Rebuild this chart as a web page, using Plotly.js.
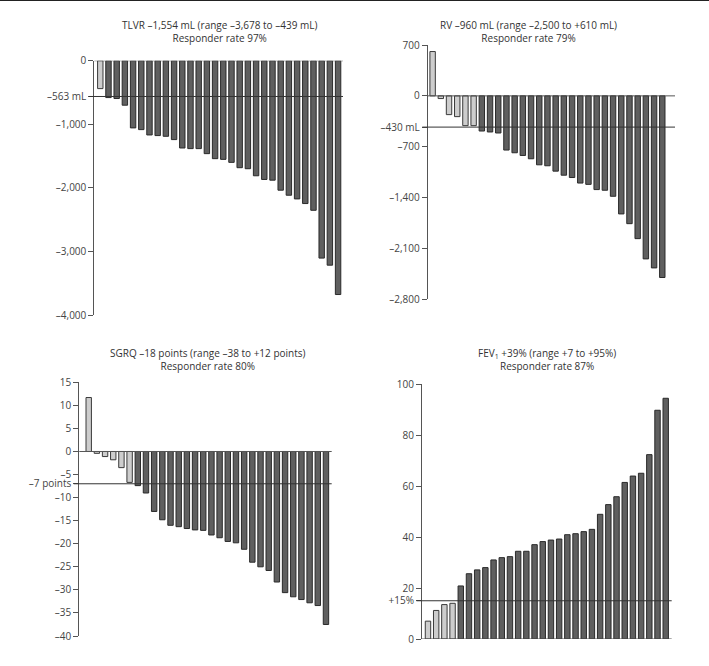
<!DOCTYPE html>
<html>
<head>
<meta charset="utf-8">
<script src="https://cdn.plot.ly/plotly-3.0.1.min.js"></script>
<style>html,body{margin:0;padding:0;background:#fff;}#chart{width:709px;height:666px;}</style>
</head>
<body>
<div id="chart"></div>
<script>
// ---- Data ----
const tlvrValues = [-439,-580,-595,-700,-1057,-1084,-1168,-1178,-1189,-1241,-1373,-1383,-1383,-1462,-1541,-1552,-1599,-1683,-1699,-1810,-1868,-1879,-2037,-2116,-2174,-2247,-2353,-3105,-3216,-3678];
const rvValues = [610,-37,-258,-286,-410,-410,-484,-497,-511,-746,-783,-820,-866,-949,-962,-1036,-1092,-1124,-1200,-1218,-1290,-1299,-1382,-1625,-1759,-1965,-2244,-2368,-2500];
const sgrqValues = [11.7,-0.4,-1.1,-1.8,-3.5,-6.7,-7.4,-9.0,-13.0,-14.8,-16.0,-16.3,-16.7,-17.0,-17.1,-18.1,-18.7,-19.5,-19.8,-21.2,-24.0,-25.0,-25.8,-28.3,-30.6,-31.5,-32.1,-32.8,-33.4,-37.5];
const fevValues = [7,11.2,13.5,14,20.8,25.6,27.1,28,31,31.9,32.3,34.4,34.4,37,38.2,38.8,39.2,40.9,41.3,42.1,43,48.9,52.7,55.8,61.4,63.9,65,72.3,89.7,94.4];

const thresholds = {tlvr: -563, rv: -430, sgrq: -7, fev: 15};

const tlvrTickVals = [0,-563,-1000,-2000,-3000,-4000];
const tlvrTickText = ['0','–563 mL','–1,000','–2,000','–3,000','–4,000'];
const rvTickVals = [700,0,-430,-700,-1400,-2100,-2800];
const rvTickText = ['700','0','–430 mL','–700','–1,400','–2,100','–2,800'];
const sgrqTickVals = [15,10,5,0,-5,-7,-10,-15,-20,-25,-30,-35,-40];
const sgrqTickText = ['15','10','5','0','–5','–7 points','–10','–15','–20','–25','–30','–35','–40'];
const fevTickVals = [100,80,60,40,20,15,0];
const fevTickText = ['100','80','60','40','20','+15%','0'];

const titles = [
  ['TLVR –1,554 mL (range –3,678 to –439 mL)','Responder rate 97%'],
  ['RV –960 mL (range –2,500 to +610 mL)','Responder rate 79%'],
  ['SGRQ –18 points (range –38 to +12 points)','Responder rate 80%'],
  ['FEV<sub>1</sub> +39% (range +7 to +95%)','Responder rate 87%']
];

// ---- Styling ----
const W = 709, H = 666;
const DARK = '#5f5f5f', DARK_LINE = '#2a2a2a';
const LIGHT = '#cdcdcd', LIGHT_LINE = '#3a3a3a';
const FONT = 'Open Sans, DejaVu Sans, sans-serif';
const px = v => v / W;
const py = v => 1 - v / H;

function barTrace(vals, thr, lowerIsBetter, ax) {
  const responder = vals.map(v => lowerIsBetter ? v <= thr : v >= thr);
  return {
    type: 'bar',
    x: vals.map((v, i) => i),
    y: vals,
    width: 0.66,
    marker: {
      color: responder.map(r => r ? DARK : LIGHT),
      line: {color: responder.map(r => r ? DARK_LINE : LIGHT_LINE), width: 1}
    },
    xaxis: 'x' + ax, yaxis: 'y' + ax,
    hoverinfo: 'y', showlegend: false
  };
}

const data = [
  barTrace(tlvrValues, thresholds.tlvr, true, ''),
  barTrace(rvValues, thresholds.rv, true, '2'),
  barTrace(sgrqValues, thresholds.sgrq, true, '3'),
  barTrace(fevValues, thresholds.fev, false, '4')
];

function xa(x0, x1, r) {
  return {domain: [px(x0), px(x1)], range: r, visible: false, fixedrange: true};
}
function ya(y0, y1, r, tv, tt, anchor) {
  return {
    domain: [py(y1), py(y0)], range: r, anchor: anchor,
    tickmode: 'array', tickvals: tv, ticktext: tt,
    showgrid: false, zeroline: false,
    showline: true, linecolor: '#555', linewidth: 1,
    ticks: 'outside', ticklen: 5, tickcolor: '#555', tickwidth: 1,
    tickfont: {family: FONT, size: 10, color: '#444'},
    fixedrange: true
  };
}

const layout = {
  width: W, height: H,
  margin: {l: 0, r: 0, t: 0, b: 0},
  paper_bgcolor: '#fff', plot_bgcolor: 'rgba(0,0,0,0)',
  showlegend: false, bargap: 0.34,
  xaxis:  xa(94.3, 343, [-0.73, 29.6]),
  yaxis:  ya(60.7, 315, [-4000, 0], tlvrTickVals, tlvrTickText, 'x'),
  xaxis2: xa(427.7, 675, [-0.6, 29.55]),
  yaxis2: ya(45, 299.3, [-2800, 700], rvTickVals, rvTickText, 'x2'),
  xaxis3: xa(79.3, 331.7, [-1.15, 29.7]),
  yaxis3: ya(382.3, 636, [-40, 15], sgrqTickVals, sgrqTickText, 'x3'),
  xaxis4: xa(422, 671.7, [-0.73, 29.73]),
  yaxis4: ya(384, 639, [0, 100], fevTickVals, fevTickText, 'x4'),
  shapes: [],
  annotations: []
};

const axes = [['', thresholds.tlvr], ['2', thresholds.rv], ['3', thresholds.sgrq], ['4', thresholds.fev]];
axes.forEach(([a, thr]) => {
  layout.shapes.push({type: 'line', xref: 'x' + a + ' domain', yref: 'y' + a,
    x0: 0, x1: 1, y0: 0, y1: 0, line: {color: '#555', width: 1}});
  layout.shapes.push({type: 'line', xref: 'x' + a + ' domain', yref: 'y' + a,
    x0: -0.022, x1: 1, y0: thr, y1: thr, line: {color: '#333', width: 1}});
});
// top frame line
layout.shapes.push({type: 'line', xref: 'paper', yref: 'paper', x0: 0, x1: 1,
  y0: py(0.5), y1: py(0.5), line: {color: '#222', width: 1}});

const titlePos = [[219, 31], [528, 31], [207.5, 359.5], [546.5, 359.5]];
titles.forEach((t, i) => {
  const [cx, cy] = titlePos[i];
  layout.annotations.push({text: t[0] + '<br>' + t[1], xref: 'paper', yref: 'paper',
    x: px(cx), y: py(cy), xanchor: 'center', yanchor: 'middle', align: 'center',
    showarrow: false, font: {family: FONT, size: 10, color: '#333'}});
});

Plotly.newPlot('chart', data, layout, {displayModeBar: false, staticPlot: true});
</script>
</body>
</html>
